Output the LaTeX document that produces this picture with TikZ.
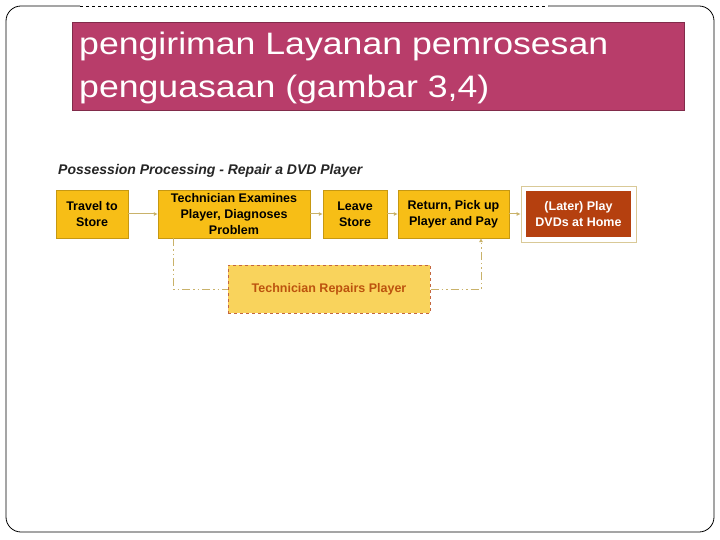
\documentclass[tikz,border=0pt]{standalone}
\usepackage{fontspec}
\setmainfont{Liberation Sans}
\newfontfamily\ttlfont[FakeStretch=1.15]{Liberation Sans}
\usetikzlibrary{arrows.meta}
\definecolor{ttl}{HTML}{B83D6A}
\definecolor{yel}{HTML}{F7BE16}
\definecolor{lyel}{HTML}{F9D35C}
\definecolor{brn}{HTML}{B5400F}
\definecolor{arr}{HTML}{C9B26A}
\tikzset{
 stepbox/.style={fill=yel,draw=yel!80!black,line width=0.4pt,font=\bfseries\fontsize{12.5}{16}\selectfont,align=center,inner sep=0pt},
 flow/.style={draw=arr,line width=1pt,-{Latex[length=4pt,width=4pt]}},
 dflow/.style={draw=arr,line width=0.8pt,dash pattern=on 8pt off 3pt on 1.5pt off 3pt on 1.5pt off 3pt}
}
\begin{document}
\begin{tikzpicture}[x=1pt,y=-1pt]
\useasboundingbox (0,0) rectangle (720,540);
\fill[white] (0,0) rectangle (720,540);
\draw[line width=0.8pt,rounded corners=15pt] (80,6) -- (6,6) -- (6,532) -- (714,532) -- (714,6) -- (548,6);
\draw[line width=0.8pt,dashed] (80,6) -- (548,6);
\node[fill=ttl,draw=ttl!70!black,minimum width=612pt,minimum height=88pt,anchor=north west,inner sep=0pt] (title) at (72,22) {};
\node[anchor=base west,text=white,align=left,font=\ttlfont\fontsize{31}{43}\selectfont,inner sep=0pt] (tt) at (79,98) {pengiriman Layanan pemrosesan\\penguasaan (gambar 3,4)};
\node[anchor=west,font=\bfseries\itshape\fontsize{14}{16}\selectfont,text=black!85,inner sep=0pt] (hd) at (58,171) {Possession Processing - Repair a DVD Player};
\node[stepbox,minimum width=72pt,minimum height=48pt] (a) at (92,214) {Travel to\\Store};
\node[stepbox,minimum width=152pt,minimum height=48pt] (b) at (234,214) {Technician Examines\\Player, Diagnoses\\Problem};
\node[stepbox,minimum width=64pt,minimum height=48pt] (c) at (355,214) {Leave\\Store};
\node[stepbox,minimum width=111pt,minimum height=48pt] (d) at (453.5,214) {Return, Pick up\\Player and Pay};
\node[draw=arr!70,line width=0.8pt,minimum width=115pt,minimum height=56pt,inner sep=0pt] (eo) at (578.5,214) {};
\node[fill=brn,text=white,font=\bfseries\fontsize{12.5}{16}\selectfont,align=center,minimum width=105pt,minimum height=46pt,inner sep=0pt] (e) at (578.5,214) {(Later) Play\\DVDs at Home};
\node[fill=lyel,draw=brn!80,dashed,line width=1pt,minimum width=202pt,minimum height=48pt,text=brn!90!yellow,font=\bfseries\fontsize{12.5}{16}\selectfont,inner sep=0pt] (r) at (329,289) {Technician Repairs Player};
\draw[flow] (a) -- (b);
\draw[flow] (b) -- (c);
\draw[flow] (c) -- (d);
\draw[flow] (d) -- (eo);
\coordinate (p1) at (173,238);
\coordinate (p2) at (481,238);
\draw[dflow] (p1) |- (r.west);
\draw[dflow,-{Latex[length=4pt,width=4pt]}] (r.east) -| (p2);
\end{tikzpicture}
\end{document}
